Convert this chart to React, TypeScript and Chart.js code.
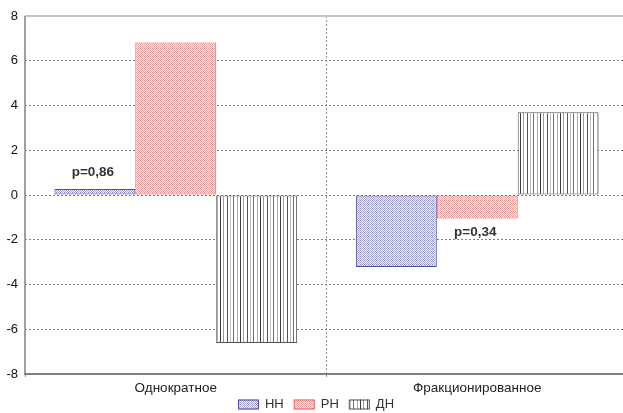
import React, { useEffect, useRef } from 'react';
import { Chart, registerables } from 'chart.js';

Chart.register(...registerables);

const categories = ['Однократное', 'Фракционированное'];
const seriesNames = ['НН', 'РН', 'ДН'];
const nnValues = [0.27, -3.22];
const rnValues = [6.82, -1.05];
const dnValues = [-6.62, 3.7];
const yMin = -8;
const yMax = 8;
const yStep = 2;
const pLabels = ['p=0,86', 'p=0,34'];

const FONT = 'Arial, "Liberation Sans", sans-serif';

function makePattern(kind: string): CanvasPattern | string {
  const c = document.createElement('canvas');
  const g = c.getContext('2d');
  if (!g) return '#ccc';
  if (kind === 'blue' || kind === 'red') {
    c.width = 4; c.height = 4;
    const bg = kind === 'blue' ? '#f2f2fa' : '#fff2f2';
    const fg = kind === 'blue' ? '#a4a4d2' : '#f5a4a4';
    const fg2 = kind === 'blue' ? '#7c7cbc' : '#ee8484';
    g.fillStyle = bg;
    g.fillRect(0, 0, 4, 4);
    for (let y = 0; y < 4; y++) {
      for (let x = 0; x < 4; x++) {
        if ((x + y) % 2 === 0) {
          g.fillStyle = x === 0 && y === 0 ? fg2 : fg;
          g.fillRect(x, y, 1, 1);
        }
      }
    }
  } else {
    c.width = 20; c.height = 4;
    g.fillStyle = '#ffffff';
    g.fillRect(0, 0, 20, 4);
    const lines: [number, string][] = [
      [0, '#3a3a3a'], [3, '#9a9a9a'], [7, '#555555'], [10, '#c0c0c0'], [13, '#6e6e6e'], [17, '#a8a8a8'],
    ];
    lines.forEach(([x, col]) => {
      g.fillStyle = col;
      g.fillRect(x, 0, 1, 4);
    });
  }
  const p = g.createPattern(c, 'repeat');
  return p || '#ccc';
}

const framePlugin = {
  id: 'frame',
  afterDraw(chart: any) {
    const { ctx, chartArea } = chart;
    const { left, right, top, bottom } = chartArea;
    ctx.save();
    ctx.lineWidth = 2;
    ctx.strokeStyle = '#c4c4c4';
    ctx.beginPath();
    ctx.moveTo(left, top);
    ctx.lineTo(right, top);
    ctx.stroke();
    ctx.strokeStyle = '#a0a0a0';
    ctx.beginPath();
    ctx.moveTo(left, top);
    ctx.lineTo(left, bottom);
    ctx.stroke();
    ctx.strokeStyle = '#808080';
    ctx.beginPath();
    ctx.moveTo(left - 1, bottom);
    ctx.lineTo(right, bottom);
    ctx.stroke();

    // p-value annotations
    const anchors = [
      { dataset: 0, index: 0, value: 1.0 },
      { dataset: 1, index: 1, value: -1.65 },
    ];
    ctx.font = 'bold 13.5px ' + FONT;
    ctx.fillStyle = '#333';
    ctx.textAlign = 'center';
    ctx.textBaseline = 'middle';
    anchors.forEach((a, i) => {
      const bar = chart.getDatasetMeta(a.dataset).data[a.index];
      const y = chart.scales.y.getPixelForValue(a.value);
      ctx.fillText(pLabels[i], bar.x - 2, y);
    });

    // legend
    const boxW = 21, boxH = 10, gapText = 6, gapItem = 10;
    ctx.font = '13px ' + FONT;
    ctx.textAlign = 'left';
    const items = chart.data.datasets.map((ds: any) => ({
      ds,
      w: boxW + gapText + ctx.measureText(ds.label).width,
    }));
    const total = items.reduce((s: number, it: any) => s + it.w, 0) + gapItem * (items.length - 1);
    let x = 316 - total / 2;
    const cy = 404.5;
    items.forEach((it: any) => {
      ctx.fillStyle = it.ds.backgroundColor;
      ctx.fillRect(x, cy - boxH / 2, boxW, boxH);
      ctx.strokeStyle = it.ds.borderColor;
      ctx.lineWidth = 1;
      ctx.strokeRect(x + 0.5, cy - boxH / 2 + 0.5, boxW - 1, boxH - 1);
      ctx.fillStyle = '#333';
      ctx.fillText(it.ds.label, x + boxW + gapText, cy);
      x += it.w + gapItem;
    });
    ctx.restore();
  },
};

export default function App() {
  const ref = useRef<HTMLCanvasElement>(null);
  useEffect(() => {
    if (!ref.current) return;
    const fills = [makePattern('blue'), makePattern('red'), makePattern('stripe')];
    const borders = ['#4a4aa0', '#ee5c5c', '#555555'];
    const values = [nnValues, rnValues, dnValues];
    const chart = new Chart(ref.current, {
      type: 'bar',
      data: {
        labels: categories,
        datasets: seriesNames.map((name, i) => ({
          label: name,
          data: values[i],
          backgroundColor: fills[i] as any,
          borderColor: borders[i],
          borderWidth: 1,
          borderSkipped: false,
          categoryPercentage: 0.805,
          barPercentage: 1.0,
        })),
      },
      options: {
        responsive: false,
        animation: false,
        layout: { padding: { top: 16, right: 0, left: 0, bottom: 0 } },
        plugins: {
          tooltip: { enabled: false },
          legend: { display: false },
        },
        scales: {
          x: {
            grid: {
              offset: true,
              color: '#909090',
              lineWidth: 1,
              drawTicks: true,
              tickLength: 3,
            },
            border: { display: false, dash: [2, 2] },
            ticks: { color: '#222', padding: 3, font: { family: FONT, size: 13.5 } },
            afterFit: (s: any) => { s.height = 39; },
          },
          y: {
            min: yMin,
            max: yMax,
            ticks: {
              stepSize: yStep,
              color: '#111',
              padding: 7,
              font: { family: FONT, size: 13 },
            },
            grid: {
              drawTicks: false,
              color: (c: any) => (c.tick && (c.tick.value === yMax || c.tick.value === yMin) ? 'rgba(0,0,0,0)' : '#808080'),
              lineWidth: 1,
            },
            border: { display: false, dash: [2, 2] },
            afterFit: (s: any) => { s.width = 25; },
          },
        },
      },
      plugins: [framePlugin],
    });
    return () => chart.destroy();
  }, []);
  return (
    <div style={{ position: 'absolute', left: 0, top: 0, width: 623, height: 413, overflow: 'hidden', background: '#fff' }}>
      <canvas ref={ref} width={628} height={413} style={{ display: 'block' }} />
    </div>
  );
}
